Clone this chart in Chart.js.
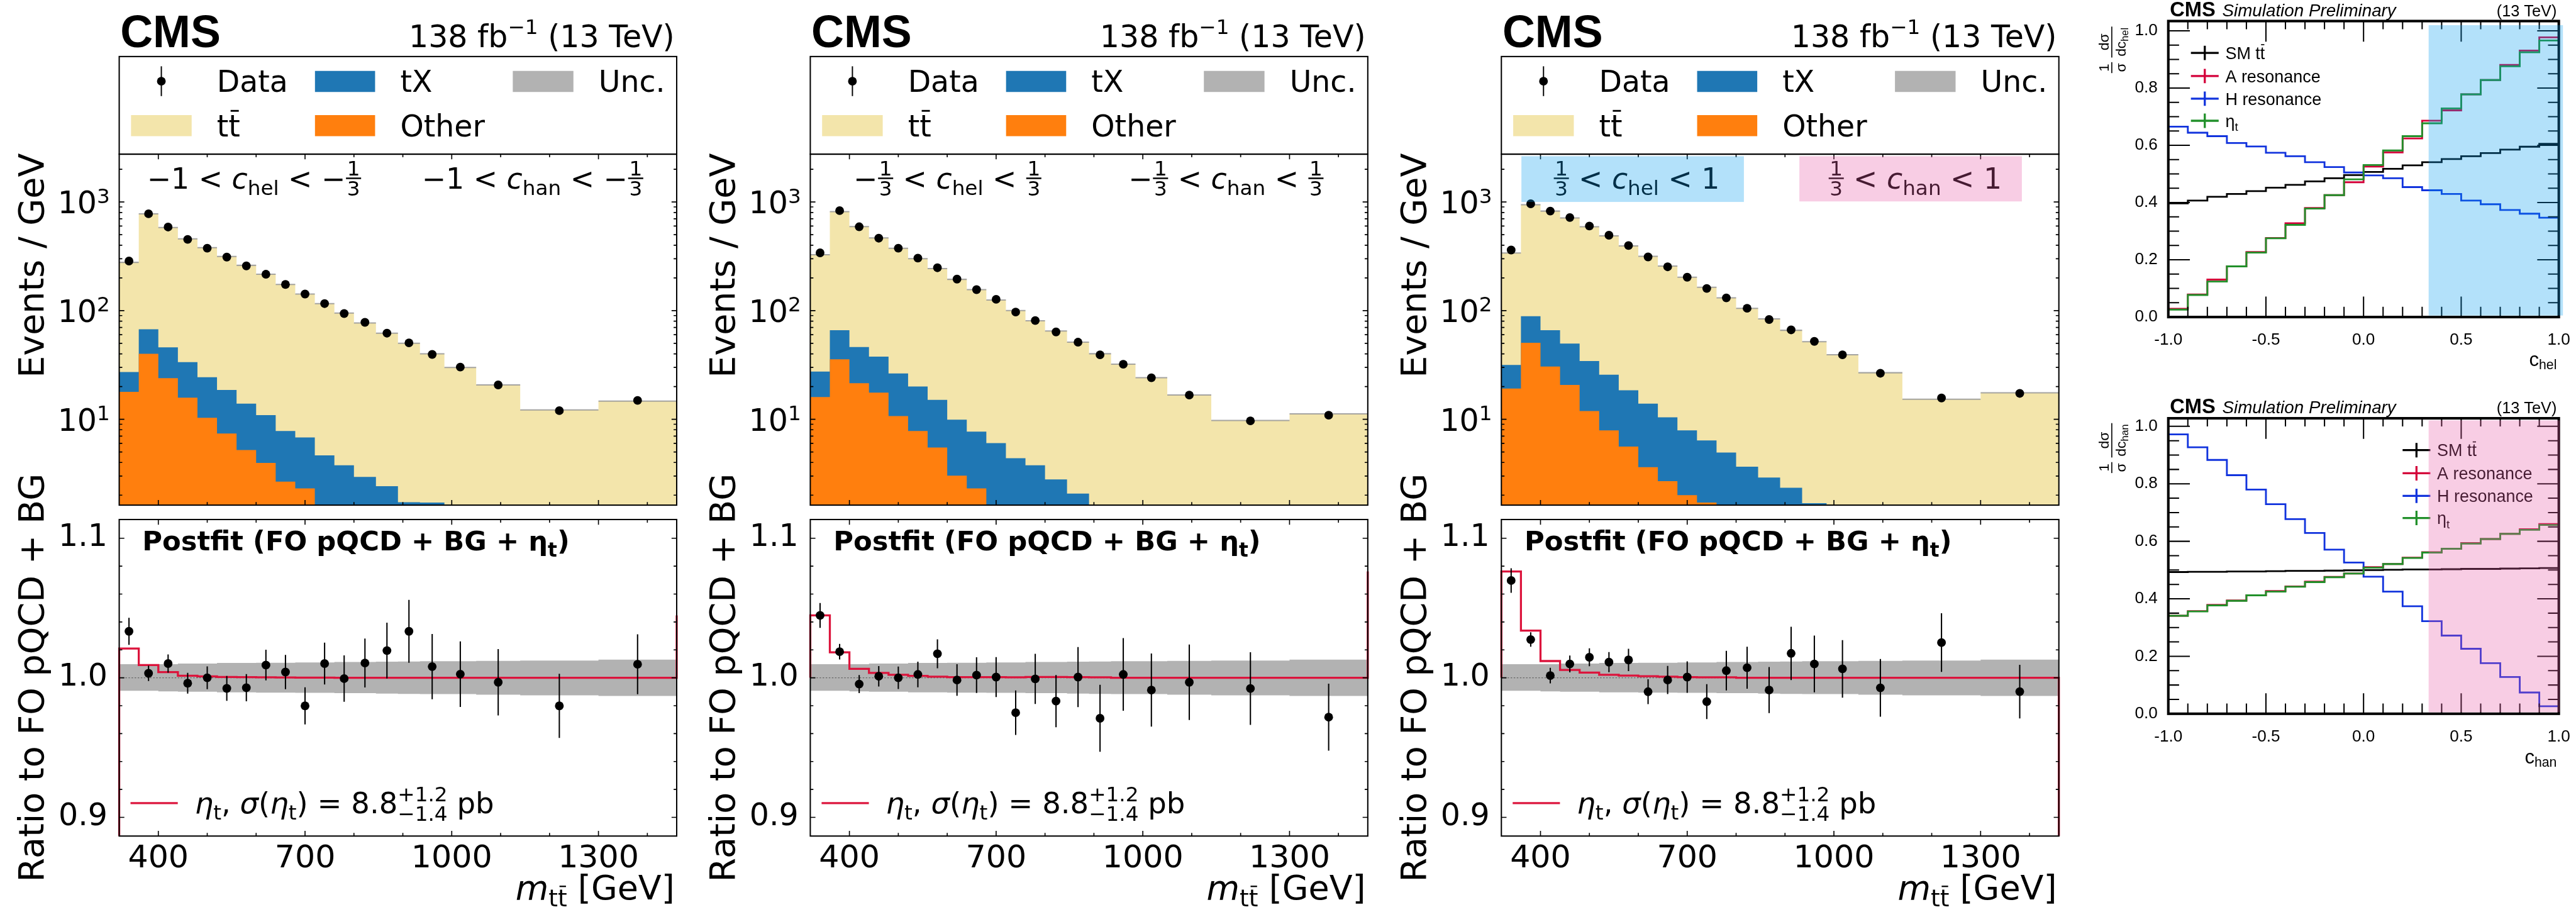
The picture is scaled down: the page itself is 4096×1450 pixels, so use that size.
<!DOCTYPE html>
<html>
<head>
<meta charset="utf-8">
<title>eta_t in m_tt slices</title>
<script src="https://cdn.jsdelivr.net/npm/chart.js@4.4.1/dist/chart.umd.min.js"></script>
<style>
  html, body { margin: 0; padding: 0; background: #fff; }
  #page { position: relative; width: 4096px; height: 1450px; overflow: hidden; background: #fff; }
  #page canvas { position: absolute; }
</style>
</head>
<body>
<div id="page"></div>
<script>
// ---- m_tt bins (GeV), same for the three slices ----
const massEdges = [320, 360, 400, 440, 480, 520, 560, 600, 640, 680, 720, 760, 800, 845, 890, 935, 985, 1050, 1140, 1300, 1460];
const massTicks = [400, 700, 1000, 1300];
const logTicks = [10, 100, 1000];
const ratioTicks = [0.9, 1.0, 1.1];

// top of each stacked component, events / GeV (1 = below the axis)
const ttTop1 = [278, 778, 581, 458, 380, 315, 261, 216, 174, 142, 116, 95, 77, 62, 50, 40, 30, 20.7, 12.2, 14.7];
const txTop1 = [27.2, 67.3, 45.9, 33.6, 24.4, 18.6, 13.9, 10.9, 7.8, 6.8, 4.65, 3.77, 2.95, 2.42, 1.72, 1.71, 1, 1, 1, 1];
const otherTop1 = [17.9, 40, 23.9, 15.8, 10.3, 7.4, 5.2, 3.96, 2.67, 2.31, 1, 1, 1, 1, 1, 1, 1, 1, 1, 1];
const data1 = [286, 778, 588, 452, 375, 311, 258, 216, 174, 142, 116, 94, 78, 62, 50.5, 39.5, 30.2, 20.7, 12.0, 14.9];

const ttTop2 = [327, 815, 594, 467, 375, 301, 244, 194, 156, 125, 100, 80.7, 64.9, 51.2, 40.1, 32.1, 24.1, 16.7, 9.75, 11.2];
const txTop2 = [27.5, 65.9, 46.2, 37.7, 26.4, 20, 15.1, 9.9, 7.7, 6.04, 4.38, 3.77, 2.79, 2.07, 1, 1, 1, 1, 1, 1];
const otherTop2 = [16, 35.6, 21.5, 17.6, 10.7, 7.8, 5.5, 3.03, 2.31, 1, 1, 1, 1, 1, 1, 1, 1, 1, 1, 1];
const data2 = [340, 832, 591, 464, 375, 304, 248, 195, 156, 127, 97, 81, 63.6, 51.2, 39.2, 32.1, 24.1, 16.7, 9.66, 10.9];

const ttTop3 = [339, 943, 824, 712, 592, 487, 394, 316, 257, 203, 164, 131, 105, 84, 65.9, 51.7, 39.2, 26.8, 15.3, 17.5];
const txTop3 = [31.6, 88.9, 65.9, 49.7, 34.4, 25.7, 18.5, 13.9, 10.4, 7.9, 6.38, 4.94, 3.66, 2.91, 2.34, 1.69, 1, 1, 1, 1];
const otherTop3 = [19.2, 50.5, 30.6, 20.7, 11.9, 7.9, 5.6, 3.62, 2.69, 2.0, 1.71, 1, 1, 1, 1, 1, 1, 1, 1, 1];
const data3 = [361, 962, 824, 719, 600, 494, 397, 312, 253, 203, 160, 131, 105, 82.8, 66.5, 52.1, 39.2, 26.5, 15.7, 17.3];

// ratio to FO pQCD + BG
const ratio1 = [1.0333, 1.0032, 1.0102, 0.9961, 1.0000, 0.9924, 0.9929, 1.0091, 1.0041, 0.9799, 1.0102, 0.9994, 1.0106, 1.0195, 1.0333, 1.0080, 1.0026, 0.9968, 0.9799, 1.0097];
const ratioErr1 = [0.0097, 0.0055, 0.0065, 0.0074, 0.0082, 0.0089, 0.0097, 0.011, 0.0123, 0.0133, 0.015, 0.0166, 0.0175, 0.020, 0.0225, 0.0234, 0.0235, 0.0238, 0.023, 0.0215];
const eta1 = [1.021, 1.0091, 1.0041, 1.0015, 1.001, 1.0006, 1.0004, 1.0003, 1.0002, 1.0001, 1.0001, 1.0, 1.0, 1.0, 1.0, 1.0, 1.0, 1.0, 1.0, 1.0];

const ratio2 = [1.0447, 1.0187, 0.9955, 1.0011, 1.0000, 1.0024, 1.0172, 0.9984, 1.0019, 1.0005, 0.9750, 0.9992, 0.9833, 1.0005, 0.9710, 1.0024, 0.9912, 0.9968, 0.9923, 0.9718];
const ratioErr2 = [0.0089, 0.0056, 0.0065, 0.0073, 0.0081, 0.0092, 0.0104, 0.0113, 0.0128, 0.0143, 0.0159, 0.018, 0.0187, 0.0215, 0.024, 0.026, 0.0262, 0.027, 0.026, 0.024];
const eta2 = [1.0447, 1.0183, 1.0064, 1.0035, 1.0021, 1.0013, 1.0008, 1.0005, 1.0005, 1.0004, 1.0003, 1.0006, 1.0006, 1.0005, 1.0003, 1.0, 1.0, 1.0, 1.0, 1.0];

const ratio3 = [1.0697, 1.0274, 1.0016, 1.0099, 1.0147, 1.0112, 1.0128, 0.9900, 0.9984, 1.0005, 0.9829, 1.0051, 1.0072, 0.9912, 1.0175, 1.0099, 1.0064, 0.9928, 1.0252, 0.9901];
const ratioErr3 = [0.0088, 0.0052, 0.0056, 0.006, 0.0064, 0.0072, 0.008, 0.0089, 0.0101, 0.0113, 0.0125, 0.0142, 0.015, 0.0165, 0.0191, 0.0203, 0.0206, 0.0207, 0.021, 0.0192];
const eta3 = [1.0762, 1.0338, 1.012, 1.0056, 1.0037, 1.0021, 1.0016, 1.0011, 1.0008, 1.0005, 1.0003, 1.0003, 1.0, 1.0, 1.0, 1.0, 1.0, 1.0, 1.0, 1.0];

// eta_t line where it enters / leaves each slice
const etaEdgeIn = [0.8, 1.0, 1.0];
const etaEdgeOut = [1.0447, 1.0762, 0.8];

// uncertainty band in the ratio
const uncUp = [1.0097, 1.0097, 1.0097, 1.0102, 1.0102, 1.0106, 1.0106, 1.0108, 1.0108, 1.011, 1.011, 1.0113, 1.0113, 1.0115, 1.0117, 1.0119, 1.0119, 1.0121, 1.0123, 1.013];
const uncDn = [0.9907, 0.9907, 0.9903, 0.99, 0.99, 0.9896, 0.9896, 0.9894, 0.9894, 0.9892, 0.9892, 0.989, 0.989, 0.9887, 0.9885, 0.9883, 0.9883, 0.9879, 0.9874, 0.987];

// ---- normalised c_hel / c_han shapes ----
const cEdges = [-1.0, -0.9, -0.8, -0.7, -0.6, -0.5, -0.4, -0.3, -0.2, -0.1, 0.0, 0.1, 0.2, 0.3, 0.4, 0.5, 0.6, 0.7, 0.8, 0.9, 1.0];
const cTicks = [-1.0, -0.5, 0.0, 0.5, 1.0];
const fracTicks = [0.0, 0.2, 0.4, 0.6, 0.8, 1.0];

const chelSM = [0.397, 0.407, 0.42, 0.43, 0.44, 0.452, 0.462, 0.474, 0.485, 0.496, 0.507, 0.518, 0.53, 0.541, 0.552, 0.562, 0.573, 0.585, 0.595, 0.605];
const chelA = [0.029, 0.079, 0.131, 0.177, 0.227, 0.276, 0.328, 0.381, 0.426, 0.471, 0.526, 0.575, 0.624, 0.686, 0.722, 0.778, 0.828, 0.881, 0.931, 0.977];
const chelH = [0.665, 0.644, 0.632, 0.608, 0.596, 0.574, 0.562, 0.541, 0.524, 0.505, 0.495, 0.485, 0.454, 0.443, 0.43, 0.407, 0.394, 0.374, 0.361, 0.347];
const chelEta = [0.026, 0.077, 0.124, 0.177, 0.225, 0.275, 0.322, 0.379, 0.426, 0.481, 0.531, 0.582, 0.632, 0.677, 0.729, 0.778, 0.828, 0.876, 0.925, 0.966];

const chanSM = [0.493, 0.494, 0.494, 0.495, 0.495, 0.496, 0.497, 0.497, 0.498, 0.499, 0.5, 0.501, 0.502, 0.502, 0.503, 0.504, 0.504, 0.505, 0.506, 0.507];
const chanA = [0.341, 0.357, 0.379, 0.394, 0.412, 0.427, 0.443, 0.46, 0.476, 0.488, 0.51, 0.521, 0.543, 0.562, 0.574, 0.594, 0.608, 0.626, 0.642, 0.66];
const chanH = [0.972, 0.927, 0.883, 0.830, 0.780, 0.729, 0.677, 0.629, 0.571, 0.526, 0.477, 0.425, 0.374, 0.322, 0.272, 0.226, 0.176, 0.128, 0.074, 0.026];
const chanEta = [0.341, 0.356, 0.377, 0.393, 0.412, 0.425, 0.442, 0.458, 0.475, 0.488, 0.508, 0.521, 0.542, 0.561, 0.574, 0.592, 0.608, 0.626, 0.64, 0.657];

// ---------------------------------------------------------------
const S = 0.817;                 // reference px -> page px
const R = v => v * S;
const DJ = "'DejaVu Sans', sans-serif";
const LS = "'Liberation Sans', Arial, sans-serif";

const colTT = '#f3e5ab', colTX = '#1f77b4', colOther = '#ff7f0e', colUnc = '#b2b2b2', colEta = '#dc143c';

const panels = [
  { tt: ttTop1, tx: txTop1, oth: otherTop1, data: data1, ratio: ratio1, err: ratioErr1, eta: eta1 },
  { tt: ttTop2, tx: txTop2, oth: otherTop2, data: data2, ratio: ratio2, err: ratioErr2, eta: eta2 },
  { tt: ttTop3, tx: txTop3, oth: otherTop3, data: data3, ratio: ratio3, err: ratioErr3, eta: eta3 }
];
const massCenters = massEdges.slice(0, -1).map((e, i) => (e + massEdges[i + 1]) / 2);

Chart.defaults.font.family = DJ;
Chart.defaults.color = '#000';

const page = document.getElementById('page');

function mk(x, y, w, h) {
  const c = document.createElement('canvas');
  const ox = Math.round(R(x)), oy = Math.round(R(y));
  const W = Math.round(R(w)), H = Math.round(R(h));
  c.width = W; c.height = H;
  c.style.left = ox + 'px'; c.style.top = oy + 'px';
  c.style.width = W + 'px'; c.style.height = H + 'px';
  page.appendChild(c);
  return { c, ox, oy, W, H };
}

function pad(cv, a, yW, xH) {
  return {
    left: R(a.l) - cv.ox - R(yW),
    top: R(a.t) - cv.oy,
    right: cv.ox + cv.W - R(a.r),
    bottom: cv.oy + cv.H - R(a.b) - R(xH)
  };
}

const pts = (xs, ys) => xs.map((x, i) => ({ x: x, y: ys[i] }));
function stepPts(edges, vals) {
  const p = vals.map((v, i) => ({ x: edges[i], y: v }));
  p.push({ x: edges[edges.length - 1], y: vals[vals.length - 1] });
  return p;
}
function edgePts(edges, vals) {      // horizontal pieces only
  const p = [];
  vals.forEach((v, i) => { p.push({ x: edges[i], y: v }, { x: edges[i + 1], y: v }, { x: edges[i + 1], y: null }); });
  return p;
}

// rich text: parts drawn left to right on one baseline
function fnt(p, base) {
  const s = p.s || base.s;
  const st = p.st !== undefined ? p.st : (base.st || '');
  return (st + ' ' + R(s) + 'px ' + (p.fam || base.fam || DJ)).trim();
}
function pw(ctx, p, base) {
  ctx.font = fnt(p, base);
  if (p.frac) return Math.max(ctx.measureText(p.frac[0]).width, ctx.measureText(p.frac[1]).width) + R(6);
  if (p.stack) return Math.max(ctx.measureText(p.stack[0]).width, ctx.measureText(p.stack[1]).width);
  return ctx.measureText(p.t).width;
}
function rich(ctx, x, y, parts, base, align) {
  const ws = parts.map(p => pw(ctx, p, base));
  const tot = ws.reduce((a, b) => a + b, 0);
  let cx = align === 'right' ? x - tot : align === 'center' ? x - tot / 2 : x;
  ctx.textAlign = 'left';
  ctx.textBaseline = 'alphabetic';
  parts.forEach((p, i) => {
    ctx.font = fnt(p, base);
    const w = ws[i], s = p.s || base.s;
    if (p.frac) {
      const by = y + R(p.bar);
      ctx.fillText(p.frac[0], cx + (w - ctx.measureText(p.frac[0]).width) / 2, by - R(5));
      ctx.fillText(p.frac[1], cx + (w - ctx.measureText(p.frac[1]).width) / 2, by + R(5) + R(0.73 * s));
      ctx.fillRect(cx + R(1), by - R(1.5), w - R(2), R(3));
    } else if (p.stack) {
      ctx.fillText(p.stack[0], cx, y + R(p.up));
      ctx.fillText(p.stack[1], cx, y + R(p.dn));
    } else {
      const yy = y + R(p.dy || 0);
      ctx.fillText(p.t, cx, yy);
      if (p.over) ctx.fillRect(cx + w * 0.18, yy - R(0.88 * s), w * 0.7, R(Math.max(2, s * 0.06)));
    }
    cx += w;
  });
  return tot;
}

function frameTicks(chart, o) {
  const ctx = chart.ctx, a = chart.chartArea;
  const xs = chart.scales.x, ys = chart.scales.y;
  ctx.save();
  ctx.strokeStyle = '#000';
  ctx.lineWidth = R(o.tw);
  ctx.beginPath();
  const xt = (list, L, Lt) => list.forEach(v => {
    const p = xs.getPixelForValue(v);
    if (p <= a.left + 1 || p >= a.right - 1) return;
    ctx.moveTo(p, a.bottom); ctx.lineTo(p, a.bottom - R(L));
    ctx.moveTo(p, a.top); ctx.lineTo(p, a.top + R(Lt));
  });
  const yt = (list, L) => list.forEach(v => {
    const p = ys.getPixelForValue(v);
    if (p <= a.top + 1 || p >= a.bottom - 1) return;
    ctx.moveTo(a.left, p); ctx.lineTo(a.left + R(L), p);
    ctx.moveTo(a.right, p); ctx.lineTo(a.right - R(L), p);
  });
  xt(o.xMin, o.xmin, o.xmint || o.xmin); xt(o.xMaj, o.xmaj, o.xmajt || o.xmaj);
  yt(o.yMin, o.ymin); yt(o.yMaj, o.ymaj);
  ctx.stroke();
  ctx.lineWidth = R(o.fw);
  ctx.strokeRect(a.left, a.top, a.right - a.left, a.bottom - a.top);
  ctx.restore();
}

const massMinor = [];
for (let v = 400; v <= 1400; v += 100) massMinor.push(v);
const logMinor = [];
[1, 10, 100, 1000].forEach(d => { for (let m = 2; m <= 9; m++) logMinor.push(d * m); });
const ratioMinor = [];
for (let i = 44; i <= 56; i++) ratioMinor.push(i / 50);
const cMinor = cEdges;
const fracMinor = [];
for (let i = 0; i <= 20; i++) fracMinor.push(i / 20);

// labels written above each slice
const C_ = { t: 'c', st: 'italic' };
const F13 = { frac: ['1', '3'], s: 40, bar: -20 };
const sub = t => ({ t: t, s: 40, dy: 12 });
const sliceLabels = [
  [[{ t: '−1 < ' }, C_, sub('hel'), { t: ' < −' }, F13], [{ t: '−1 < ' }, C_, sub('han'), { t: ' < −' }, F13]],
  [[{ t: '−' }, F13, { t: ' < ' }, C_, sub('hel'), { t: ' < ' }, F13], [{ t: '−' }, F13, { t: ' < ' }, C_, sub('han'), { t: ' < ' }, F13]],
  [[F13, { t: ' < ' }, C_, sub('hel'), { t: ' < 1' }], [F13, { t: ' < ' }, C_, sub('han'), { t: ' < 1' }]]
];
const sliceLabelX = [[286, 821], [316, 851], [333, 868]];

// ---------------- upper (events / GeV) panels ----------------
function topChart(k) {
  const dx = 1345 * k;
  const cv = mk(dx, 0, 1345, 1000);
  const area = { l: 232 + dx, t: 300, r: 1317 + dx, b: 983 };
  const P = panels[k];
  const fillDs = (vals, col, ord) => ({ data: stepPts(massEdges, vals), stepped: true, fill: 'start', backgroundColor: col,
    borderColor: 'transparent', borderWidth: 0, pointRadius: 0, clip: 0, order: ord });
  new Chart(cv.c, {
    type: 'line',
    data: { datasets: [
      { data: pts(massCenters, P.data), showLine: false, pointRadius: R(8.5), pointBackgroundColor: '#000', pointBorderWidth: 0, order: 0 },
      fillDs(P.oth, colOther, 1),
      fillDs(P.tx, colTX, 2),
      { data: edgePts(massEdges, P.tt), borderColor: 'rgba(150,150,150,0.85)', borderWidth: R(2.5), pointRadius: 0, fill: false, clip: 0, order: 3 },
      fillDs(P.tt, colTT, 4)
    ] },
    options: {
      responsive: false, animation: false, events: [],
      layout: { padding: pad(cv, area, 200, 0) },
      plugins: { legend: { display: false }, tooltip: { enabled: false } },
      scales: {
        x: { type: 'linear', display: false, min: 320, max: 1460 },
        y: { type: 'logarithmic', min: 1.62, max: 2754, bounds: 'data',
          grid: { display: false }, border: { display: false }, ticks: { display: false },
          afterFit: s => { s.width = R(200); s.paddingTop = 0; s.paddingBottom = 0; } }
      }
    },
    plugins: [{
      id: 'topDeco' + k,
      afterDatasetsDraw(chart) {
        frameTicks(chart, { tw: 2, fw: 2.5, xMaj: massTicks, xMin: massMinor, xmaj: 10, xmin: 6,
          yMaj: logTicks, yMin: logMinor, ymaj: 10, ymin: 6 });
      },
      afterDraw(chart) {
        const ctx = chart.ctx, a = chart.chartArea, ys = chart.scales.y;
        ctx.save();
        ctx.fillStyle = '#000';
        logTicks.forEach((v, i) => {
          rich(ctx, a.left - R(18), ys.getPixelForValue(v) + R(22), [{ t: '10' }, { t: String(i + 1), s: 40, dy: -20 }], { s: 60 }, 'right');
        });
        ctx.restore();

        ctx.save();
        ctx.translate(-cv.ox, -cv.oy);
        const X = v => R(v + dx);
        ctx.fillStyle = '#000';
        ctx.font = 'bold ' + R(88) + 'px ' + LS;
        ctx.textAlign = 'left'; ctx.textBaseline = 'alphabetic';
        ctx.fillText('CMS', X(234), R(92));
        rich(ctx, X(1313), R(92), [{ t: '138 fb' }, { t: '−1', s: 40, dy: -26 }, { t: ' (13 TeV)' }], { s: 60 }, 'right');

        // legend box
        ctx.lineWidth = R(2.5); ctx.strokeStyle = '#000';
        ctx.strokeRect(X(232), R(110), R(1085), R(190));
        ctx.fillStyle = colTX; ctx.fillRect(X(613), R(138), R(117), R(41));
        ctx.fillStyle = colUnc; ctx.fillRect(X(998), R(138), R(118), R(41));
        ctx.fillStyle = colTT; ctx.fillRect(X(255), R(224), R(118), R(41));
        ctx.fillStyle = colOther; ctx.fillRect(X(613), R(224), R(117), R(41));
        ctx.fillStyle = '#000';
        ctx.beginPath(); ctx.arc(X(314), R(158), R(8.5), 0, Math.PI * 2); ctx.fill();
        ctx.fillRect(X(314) - R(1.2), R(129), R(2.4), R(58));
        const lb = { s: 58 };
        rich(ctx, X(422), R(179), [{ t: 'Data' }], lb);
        rich(ctx, X(779), R(179), [{ t: 'tX' }], lb);
        rich(ctx, X(1165), R(179), [{ t: 'Unc.' }], lb);
        rich(ctx, X(422), R(265), [{ t: 't' }, { t: 't', over: true }], lb);
        rich(ctx, X(779), R(265), [{ t: 'Other' }], lb);

        // slice label
        const labs = sliceLabels[k], lx = sliceLabelX[k];
        rich(ctx, X(lx[0]), R(367), labs[0], { s: 56 });
        rich(ctx, X(lx[1]), R(367), labs[1], { s: 56 });
        if (k === 2) {
          ctx.fillStyle = 'rgba(2,155,238,0.3)';
          ctx.fillRect(X(271), R(304), R(433), R(89));
          ctx.fillStyle = 'rgba(232,88,165,0.3)';
          ctx.fillRect(X(812), R(304), R(433), R(88));
        }

        // y title
        ctx.fillStyle = '#000';
        ctx.translate(X(85), R(298));
        ctx.rotate(-Math.PI / 2);
        ctx.font = R(68) + 'px ' + DJ;
        ctx.textAlign = 'right';
        ctx.fillText('Events / GeV', 0, 0);
        ctx.restore();
      }
    }]
  });
}

// ---------------- ratio panels ----------------
function ratioChart(k) {
  const dx = 1345 * k;
  const cv = mk(dx, 880, 1345, 893);
  const area = { l: 232 + dx, t: 1011, r: 1317 + dx, b: 1627 };
  const P = panels[k];
  const redPts = [{ x: massEdges[0], y: etaEdgeIn[k] }].concat(stepPts(massEdges, P.eta), [{ x: massEdges[20], y: etaEdgeOut[k] }]);
  new Chart(cv.c, {
    type: 'line',
    data: { datasets: [
      { data: pts(massCenters, P.ratio), showLine: false, pointRadius: R(8.5), pointBackgroundColor: '#000', pointBorderWidth: 0, order: 0 },
      { data: redPts, stepped: true, borderColor: colEta, borderWidth: R(4), pointRadius: 0, fill: false,
        clip: { left: R(3), right: R(3), top: 0, bottom: 0 }, order: 1 },
      { data: [{ x: 320, y: 1 }, { x: 1460, y: 1 }], borderColor: '#666', borderWidth: R(1.6), borderDash: [R(3), R(3)], pointRadius: 0, fill: false, order: 2 },
      { data: stepPts(massEdges, uncUp), stepped: true, fill: '+1', backgroundColor: colUnc, borderColor: 'transparent', borderWidth: 0, pointRadius: 0, clip: 0, order: 3 },
      { data: stepPts(massEdges, uncDn), stepped: true, fill: false, borderColor: 'transparent', borderWidth: 0, pointRadius: 0, clip: 0, order: 4 }
    ] },
    options: {
      responsive: false, animation: false, events: [],
      layout: { padding: pad(cv, area, 200, 100) },
      plugins: { legend: { display: false }, tooltip: { enabled: false } },
      scales: {
        x: { type: 'linear', min: 320, max: 1460,
          grid: { display: false }, border: { display: false },
          afterBuildTicks: s => { s.ticks = massTicks.map(v => ({ value: v })); },
          ticks: { font: { family: DJ, size: R(62), lineHeight: 1 }, padding: R(4), autoSkip: false, maxRotation: 0, callback: v => String(v) },
          afterFit: s => { s.height = R(100); s.paddingLeft = 0; s.paddingRight = 0; } },
        y: { type: 'linear', min: 0.8866, max: 1.1134,
          grid: { display: false }, border: { display: false },
          afterBuildTicks: s => { s.ticks = ratioTicks.map(v => ({ value: v })); },
          ticks: { font: { family: DJ, size: R(60), lineHeight: 1 }, padding: R(13), callback: v => v.toFixed(1) },
          afterFit: s => { s.width = R(200); s.paddingTop = 0; s.paddingBottom = 0; } }
      }
    },
    plugins: [{
      id: 'ratioDeco' + k,
      beforeDatasetDraw(chart, args) {
        if (args.index !== 0) return;
        const ctx = chart.ctx, xs = chart.scales.x, ys = chart.scales.y;
        ctx.save();
        ctx.strokeStyle = '#000';
        ctx.lineWidth = R(2.5);
        ctx.beginPath();
        P.ratio.forEach((v, i) => {
          const px = xs.getPixelForValue(massCenters[i]);
          ctx.moveTo(px, ys.getPixelForValue(v - P.err[i]));
          ctx.lineTo(px, ys.getPixelForValue(v + P.err[i]));
        });
        ctx.stroke();
        ctx.restore();
      },
      afterDatasetsDraw(chart) {
        frameTicks(chart, { tw: 2, fw: 2.5, xMaj: massTicks, xMin: massMinor, xmaj: 10, xmin: 6,
          yMaj: ratioTicks, yMin: ratioMinor, ymaj: 10, ymin: 6 });
      },
      afterDraw(chart) {
        const ctx = chart.ctx;
        ctx.save();
        ctx.translate(-cv.ox, -cv.oy);
        const X = v => R(v + dx);
        ctx.fillStyle = '#000';
        rich(ctx, X(277), R(1071), [{ t: 'Postfit (FO pQCD + BG + η' }, { t: 't', s: 38, dy: 12 }, { t: ')' }], { s: 53, st: 'bold' });

        ctx.strokeStyle = colEta; ctx.lineWidth = R(4);
        ctx.beginPath(); ctx.moveTo(X(254), R(1563)); ctx.lineTo(X(346), R(1563)); ctx.stroke();
        rich(ctx, X(379), R(1583), [
          { t: 'η', st: 'italic' }, { t: 't', s: 40, dy: 12 }, { t: ', ' }, { t: 'σ', st: 'italic' }, { t: '(' },
          { t: 'η', st: 'italic' }, { t: 't', s: 40, dy: 12 }, { t: ') = 8.8' },
          { stack: ['+1.2', '−1.4'], s: 40, up: -24, dn: 14 }, { t: ' pb' }
        ], { s: 57 });

        rich(ctx, X(1313), R(1750), [{ t: 'm', st: 'italic' }, { t: 't', s: 46, dy: 14 }, { t: 't', s: 46, dy: 14, over: true }, { t: ' [GeV]' }], { s: 66 }, 'right');

        ctx.translate(X(85), R(1319));
        ctx.rotate(-Math.PI / 2);
        ctx.font = R(68) + 'px ' + DJ;
        ctx.textAlign = 'center';
        ctx.textBaseline = 'alphabetic';
        ctx.fillText('Ratio to FO pQCD + BG', 0, 0);
        ctx.restore();
      }
    }]
  });
}

// ---------------- normalised angular shapes ----------------
const cPlots = [
  { y0: 0, h: 770, area: { l: 4220, t: 41, r: 4980, b: 617 }, ymax: 1.034, sub: 'hel',
    series: [chelSM, chelA, chelH, chelEta], shade: 'rgba(2,155,238,0.3)', shadeTop: 8, shadeR: 8,
    titleY: 32, legX: 4264, legY: [103, 148, 192, 235], labY: 97, xlabY: 712 },
  { y0: 770, h: 730, area: { l: 4220, t: 814, r: 4980, b: 1389 }, ymax: 1.028, sub: 'han',
    series: [chanSM, chanA, chanH, chanEta], shade: 'rgba(232,88,165,0.3)', shadeTop: 4, shadeR: 2,
    titleY: 804, legX: 4676, legY: [876, 921, 965, 1008], labY: 872, xlabY: 1486 }
];
const cColors = ['#000000', '#d4003a', '#1133dd', '#21902a'];

function cChart(k) {
  const D = cPlots[k];
  const cv = mk(4030, D.y0, 979, D.h);
  new Chart(cv.c, {
    type: 'line',
    data: { datasets: D.series.map((vals, i) => ({
      data: stepPts(cEdges, vals), stepped: true, fill: false, borderColor: cColors[i], borderWidth: R(3.5),
      pointRadius: 0, clip: 0, order: 4 - i
    })) },
    options: {
      responsive: false, animation: false, events: [],
      layout: { padding: pad(cv, D.area, 150, 60) },
      plugins: { legend: { display: false }, tooltip: { enabled: false } },
      scales: {
        x: { type: 'linear', min: -1, max: 1,
          grid: { display: false }, border: { display: false },
          afterBuildTicks: s => { s.ticks = cTicks.map(v => ({ value: v })); },
          ticks: { font: { family: LS, size: R(32), lineHeight: 1 }, padding: R(19), autoSkip: false, maxRotation: 0, callback: v => v.toFixed(1) },
          afterFit: s => { s.height = R(60); s.paddingLeft = 0; s.paddingRight = 0; } },
        y: { type: 'linear', min: 0, max: D.ymax,
          grid: { display: false }, border: { display: false },
          afterBuildTicks: s => { s.ticks = fracTicks.map(v => ({ value: v })); },
          ticks: { font: { family: LS, size: R(32), lineHeight: 1 }, padding: R(11), callback: v => v.toFixed(1) },
          afterFit: s => { s.width = R(150); s.paddingTop = 0; s.paddingBottom = 0; } }
      }
    },
    plugins: [{
      id: 'cDeco' + k,
      afterDatasetsDraw(chart) {
        const ctx = chart.ctx, a = chart.chartArea, xs = chart.scales.x;
        frameTicks(chart, { tw: 2.5, fw: 5, xMaj: cTicks, xMin: cMinor, xmaj: 40, xmin: 20, xmint: 16,
          yMaj: fracTicks, yMin: fracMinor, ymaj: 42, ymin: 21 });
        // legend
        ctx.save();
        ctx.translate(-cv.ox, -cv.oy);
        const names = [
          [{ t: 'SM t' }, { t: 't', over: true }],
          [{ t: 'A resonance' }],
          [{ t: 'H resonance' }],
          [{ t: 'η' }, { t: 't', s: 23, dy: 8 }]
        ];
        names.forEach((nm, i) => {
          const y = R(D.legY[i]);
          ctx.strokeStyle = cColors[i]; ctx.lineWidth = R(4);
          ctx.beginPath();
          ctx.moveTo(R(D.legX), y); ctx.lineTo(R(D.legX + 54), y);
          ctx.moveTo(R(D.legX + 27), y - R(14)); ctx.lineTo(R(D.legX + 27), y + R(14));
          ctx.stroke();
          ctx.fillStyle = '#000';
          rich(ctx, R(D.legX + 67), y + R(12), nm, { s: 33, fam: LS });
        });
        ctx.restore();
        // selected region
        ctx.save();
        ctx.fillStyle = D.shade;
        const x1 = xs.getPixelForValue(1 / 3);
        ctx.fillRect(x1, a.top + R(D.shadeTop), a.right + R(D.shadeR) - x1, a.bottom - a.top - R(D.shadeTop) - R(3));
        ctx.restore();
      },
      afterDraw(chart) {
        const ctx = chart.ctx;
        ctx.save();
        ctx.translate(-cv.ox, -cv.oy);
        ctx.fillStyle = '#000';
        ctx.textBaseline = 'alphabetic';
        ctx.textAlign = 'left';
        ctx.font = 'bold ' + R(40) + 'px ' + LS;
        ctx.fillText('CMS', R(4223), R(D.titleY));
        ctx.font = 'italic ' + R(34) + 'px ' + LS;
        ctx.fillText('Simulation Preliminary', R(4325), R(D.titleY));
        ctx.font = R(31) + 'px ' + LS;
        ctx.textAlign = 'right';
        ctx.fillText('(13 TeV)', R(4976), R(D.titleY));
        rich(ctx, R(4976), R(D.xlabY), [{ t: 'c' }, { t: D.sub, s: 26, dy: 6 }], { s: 38, fam: LS }, 'right');

        // y title: 1/sigma dsigma/dc
        ctx.translate(R(4110), R(D.labY));
        ctx.rotate(-Math.PI / 2);
        const f = s => R(s) + 'px ' + LS;
        ctx.font = f(28);
        const w1 = ctx.measureText('σ').width + R(4);
        const wd = ctx.measureText('dc').width;
        ctx.font = f(20);
        const wsub = ctx.measureText(D.sub).width;
        ctx.font = f(28);
        const w2 = Math.max(wd + wsub, ctx.measureText('dσ').width) + R(4);
        const gap = R(9);
        let x = -(w1 + gap + w2) / 2;
        const numY = -R(6), denY = R(6) + R(21);
        ctx.textAlign = 'center';
        ctx.fillText('1', x + w1 / 2, numY);
        ctx.fillText('σ', x + w1 / 2, denY);
        ctx.fillRect(x, -R(1), w1, R(2));
        x += w1 + gap;
        ctx.fillText('dσ', x + w2 / 2, numY);
        ctx.textAlign = 'left';
        const dstart = x + (w2 - wd - wsub) / 2;
        ctx.fillText('dc', dstart, denY);
        ctx.font = f(20);
        ctx.fillText(D.sub, dstart + wd, denY + R(5));
        ctx.fillRect(x, -R(1), w2, R(2));
        ctx.restore();
      }
    }]
  });
}

[0, 1, 2].forEach(k => { topChart(k); ratioChart(k); });
[0, 1].forEach(k => cChart(k));
</script>
</body>
</html>
